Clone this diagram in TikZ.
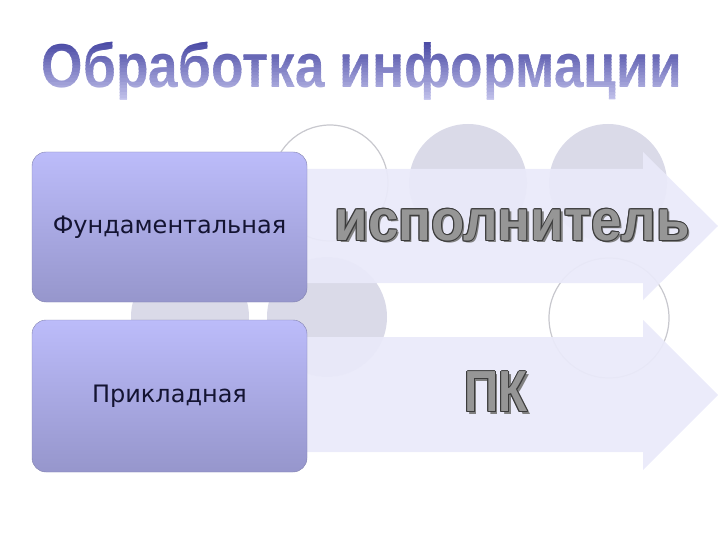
\documentclass[tikz,border=0pt]{standalone}
\usepackage{fontspec}
\setmainfont{Liberation Sans}
\newfontfamily\boxfont{DejaVu Sans}

\definecolor{tiletop}{RGB}{188,188,250}
\definecolor{tilebot}{RGB}{150,150,204}
\definecolor{bandfill}{RGB}{234,234,250}
\definecolor{discfill}{RGB}{218,218,232}
\definecolor{ringline}{RGB}{200,200,206}
\definecolor{titledark}{RGB}{62,62,158}
\definecolor{titlelight}{RGB}{196,196,236}
\definecolor{artfill}{RGB}{150,150,150}
\definecolor{artline}{RGB}{60,60,60}

\begin{document}
\begin{tikzpicture}[x=1pt,y=-1pt,
  disc/.style={fill=discfill},
  ring/.style={draw=ringline, line width=1.2pt, fill=white},
  band/.style={fill=bandfill, fill opacity=0.93},
  tile/.style={rounded corners=14pt, top color=tiletop, bottom color=tilebot,
    draw=tilebot!85!black, line width=0.4pt, minimum width=275pt,
    font=\boxfont\fontsize{24}{27}\selectfont, text={rgb,255:red,20;green,20;blue,50}},
  title/.style={font=\bfseries\fontsize{62}{64}\selectfont, inner sep=0pt, anchor=base},
  art/.style={font=\bfseries\fontsize{58}{60}\selectfont, inner sep=0pt},
]
\useasboundingbox (0,0) rectangle (720,540);

% background circles
\draw[ring] (330,183) circle (58pt);
\fill[disc] (468,183) circle (59pt);
\fill[disc] (608,183) circle (59pt);
\fill[disc] (190,317) circle (59pt);
\fill[disc] (327,317) circle (60pt);
\draw[ring] (609,318) circle (60pt);

% arrows
\fill[band] (300,169) -- (643,169) -- (643,152) -- (718,226) -- (643,300) -- (643,283) -- (300,283) -- cycle;
\fill[band] (300,337) -- (643,337) -- (643,320) -- (718,395) -- (643,470) -- (643,452) -- (300,452) -- cycle;

% boxes
\node[tile, minimum height=150pt] (fund) at (169.5,227) {Фундаментальная};
\node[tile, minimum height=152pt] (prikl) at (169.5,396) {Прикладная};

% word art
\node[art, text=gray, xshift=2.5pt, yshift=-2.5pt] (isp-s) at (512,225) {\scalebox{0.94}[1]{исполнитель}};
\foreach \dx/\dy in {1/0,-1/0,0/1,0/-1,0.7/0.7,-0.7/0.7,0.7/-0.7,-0.7/-0.7}
  \node[art, text=artline, xshift=\dx pt, yshift=\dy pt] (isp-\dx-\dy) at (512,225) {\scalebox{0.94}[1]{исполнитель}};
\node[art, text=artfill] (isp) at (512,225) {\scalebox{0.94}[1]{исполнитель}};

\node[art, text=gray, xshift=2.5pt, yshift=-2.5pt] (pk-s) at (496,392) {\scalebox{0.82}[1]{ПК}};
\foreach \dx/\dy in {1/0,-1/0,0/1,0/-1,0.7/0.7,-0.7/0.7,0.7/-0.7,-0.7/-0.7}
  \node[art, text=artline, xshift=\dx pt, yshift=\dy pt] (pk-\dx-\dy) at (496,392) {\scalebox{0.82}[1]{ПК}};
\node[art, text=artfill] (pk) at (496,392) {\scalebox{0.82}[1]{ПК}};

% title, shaded in thin bands from dark (top) to light (bottom)
\foreach \i in {0,...,19}{
  \pgfmathsetmacro\mix{100-\i*5.2}
  \begin{scope}
    \clip (0,{36+\i*3.3}) rectangle (720,{36+(\i+1)*3.3+0.3});
    \node[title, text=titledark!\mix!titlelight] (head-\i) at (362,88) {\scalebox{0.86}[1]{Обработка информации}};
  \end{scope}
}
\end{tikzpicture}
\end{document}
